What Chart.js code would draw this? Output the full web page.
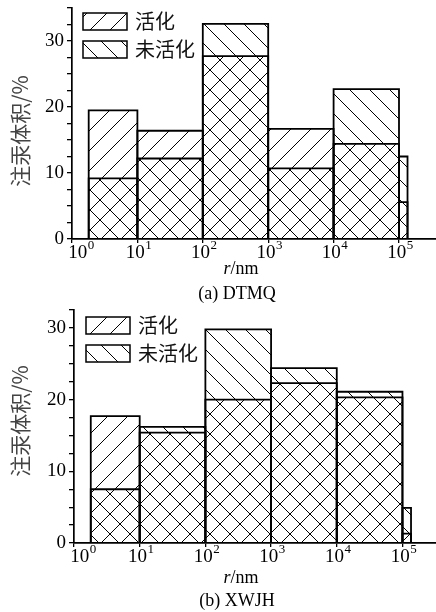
<!DOCTYPE html>
<html>
<head>
<meta charset="utf-8">
<script src="https://cdn.jsdelivr.net/npm/chart.js@4.4.0/dist/chart.umd.min.js"></script>
<style>
  body { margin: 0; background: #fff; }
  .box { position: relative; width: 436px; }
</style>
</head>
<body>
<div class="box" style="height:304px"><canvas id="chartA"></canvas></div>
<div class="box" style="height:308px"><canvas id="chartB"></canvas></div>
<script>
// pore radius classes (nm), edges of the bars
const binEdges = [1.8, 10, 100, 1000, 10000, 100000, 135000];

// (a) DTMQ, mercury intrusion volume %
const dtmqActivated   = [19.5, 16.4, 27.7, 16.7, 14.4, 5.6];
const dtmqUnactivated = [9.2, 12.2, 32.6, 10.7, 22.7, 12.5];

// (b) XWJH
const xwjhActivated   = [17.7, 15.4, 20.0, 22.3, 20.3, 1.3];
const xwjhUnactivated = [7.5, 16.2, 29.8, 24.4, 21.1, 4.9];

const seriesNames = ['活化', '未活化'];
const xTickValues = [1, 10, 100, 1000, 10000, 100000];
const xTickExponents = ['0', '1', '2', '3', '4', '5'];
const yLabelEvery = 10;

const SERIF = '"Liberation Serif", "Times New Roman", serif';
const CJK = '"Noto Sans CJK SC", sans-serif';

// diagonal hatch tile, '/' or '\'
function hatch(dir) {
    const s = 20;
    const c = document.createElement('canvas');
    c.width = s; c.height = s;
    const g = c.getContext('2d');
    g.strokeStyle = '#000';
    g.lineWidth = 1;
    g.beginPath();
    if (dir === '/') {
        g.moveTo(-2, s + 2); g.lineTo(s + 2, -2);
        g.moveTo(-2, 2); g.lineTo(2, -2);
        g.moveTo(s - 2, s + 2); g.lineTo(s + 2, s - 2);
    } else {
        g.moveTo(-2, -2); g.lineTo(s + 2, s + 2);
        g.moveTo(s - 2, -2); g.lineTo(s + 2, 2);
        g.moveTo(-2, s - 2); g.lineTo(2, s + 2);
    }
    g.stroke();
    return g.createPattern(c, 'repeat');
}
const patAct = hatch('/');
const patUnact = hatch('\\');

function rect(i, h) {
    return [
        {x: binEdges[i], y: 0},
        {x: binEdges[i], y: h},
        {x: binEdges[i + 1], y: h},
        {x: binEdges[i + 1], y: 0}
    ];
}

function makeSets(act, unact) {
    let sets = [];
    [[act, patAct], [unact, patUnact]].forEach(([vals, pat]) => {
        vals.forEach((v, i) => {
            sets.push({
                data: rect(i, v),
                borderColor: '#000',
                borderWidth: 1.8,
                backgroundColor: pat,
                fill: 'origin',
                pointRadius: 0,
                tension: 0
            });
        });
    });
    return sets;
}

// legend boxes inside the plot, top left
const hatchLegend = {
    id: 'hatchLegend',
    afterDatasetsDraw(chart, args, opts) {
        const {ctx, chartArea} = chart;
        const x = chartArea.left + opts.dx;
        [patAct, patUnact].forEach((p, k) => {
            const y = chartArea.top + opts.dy + k * 28;
            ctx.save();
            ctx.fillStyle = '#fff';
            ctx.fillRect(x, y, 44, 17);
            ctx.fillStyle = p;
            ctx.fillRect(x, y, 44, 17);
            ctx.strokeStyle = '#000';
            ctx.lineWidth = 1.5;
            ctx.strokeRect(x, y, 44, 17);
            ctx.fillStyle = '#111';
            ctx.font = '20px ' + CJK;
            ctx.textBaseline = 'middle';
            ctx.fillText(seriesNames[k], x + 52, y + 8);
            ctx.restore();
        });
    }
};

// decade labels, axis titles and caption
const axisText = {
    id: 'axisText',
    afterDraw(chart, args, opts) {
        const {ctx, chartArea} = chart;
        const xs = chart.scales.x;
        ctx.save();
        ctx.fillStyle = '#000';
        ctx.textBaseline = 'middle';

        // 10^n tick labels (first one pushed right off the y axis)
        xTickValues.forEach((v, i) => {
            const px = xs.getPixelForValue(v) + (i === 0 ? 8 : 0);
            ctx.font = '19px ' + SERIF;
            const wb = ctx.measureText('10').width;
            ctx.font = '13px ' + SERIF;
            const we = ctx.measureText(xTickExponents[i]).width;
            const x0 = px - (wb + we) / 2 + 1;
            ctx.textAlign = 'left';
            ctx.font = '19px ' + SERIF;
            ctx.fillText('10', x0, chartArea.bottom + opts.labDy);
            ctx.font = '13px ' + SERIF;
            ctx.fillText(xTickExponents[i], x0 + wb + 0.5, chartArea.bottom + opts.labDy - 7);
        });

        // r/nm
        ctx.font = 'italic 18px ' + SERIF;
        const wr = ctx.measureText('r').width;
        ctx.font = '18px ' + SERIF;
        const wn = ctx.measureText('/nm').width;
        const x0 = opts.cx - (wr + wn) / 2;
        const y0 = chartArea.bottom + opts.titleDy;
        ctx.font = 'italic 18px ' + SERIF;
        ctx.textAlign = 'left';
        ctx.fillText('r', x0, y0);
        ctx.font = '18px ' + SERIF;
        ctx.fillText('/nm', x0 + wr, y0);

        // caption
        ctx.textAlign = 'center';
        ctx.fillText(opts.caption, opts.capx, chartArea.bottom + opts.capDy);

        // y title
        ctx.translate(20, opts.yTitleY);
        ctx.rotate(-Math.PI / 2);
        ctx.fillStyle = '#444';
        ctx.font = '21px ' + CJK;
        ctx.fillText('注汞体积/%', 0, 0);
        ctx.restore();
    }
};

function makeChart(id, act, unact, cfg) {
    const ctx = document.getElementById(id).getContext('2d');
    return new Chart(ctx, {
        type: 'line',
        data: {datasets: makeSets(act, unact)},
        plugins: [hatchLegend, axisText],
        options: {
            animation: false,
            responsive: true,
            maintainAspectRatio: false,
            devicePixelRatio: 1,
            layout: {padding: {top: cfg.top, left: 0, right: 0, bottom: 0}},
            plugins: {
                legend: {display: false},
                tooltip: {enabled: false},
                hatchLegend: {dx: cfg.legDx, dy: cfg.legDy},
                axisText: {
                    cx: 241, capx: 237, labDy: 14, titleDy: cfg.titleDy, capDy: cfg.capDy,
                    caption: cfg.caption, yTitleY: cfg.yTitleY
                }
            },
            scales: {
                x: {
                    type: 'logarithmic',
                    min: 1,
                    max: cfg.xMax,
                    afterBuildTicks: (scale) => {
                        scale.ticks = xTickValues.map(v => ({value: v}));
                    },
                    afterFit: (scale) => {
                        scale.height = cfg.xHeight;
                        scale.paddingLeft = 0;
                        scale.paddingRight = 0;
                    },
                    grid: {display: true, drawOnChartArea: false, drawTicks: true, tickLength: 4, color: '#000', lineWidth: 1.3},
                    border: {display: true, color: '#000', width: 1.7},
                    ticks: {
                        autoSkip: false,
                        maxRotation: 0,
                        callback: () => ''
                    }
                },
                y: {
                    min: 0,
                    max: cfg.yMax,
                    afterFit: (scale) => {
                        scale.width = cfg.yWidth;
                        scale.paddingTop = 0;
                        scale.paddingBottom = 0;
                    },
                    grid: {display: true, drawOnChartArea: false, drawTicks: true, tickLength: 5, color: '#000', lineWidth: 1.3},
                    border: {display: true, color: '#000', width: 1.7},
                    ticks: {
                        stepSize: 2.5,
                        autoSkip: false,
                        padding: 3,
                        color: '#000',
                        font: {family: SERIF, size: 19},
                        callback: (v) => (v % yLabelEvery === 0 ? String(v) : '')
                    }
                }
            }
        }
    });
}

makeChart('chartA', dtmqActivated, dtmqUnactivated, {
    top: 8, xHeight: 65, yWidth: 72, yMax: 35, xMax: 368000,
    legDx: 11, legDy: 5, titleDy: 30, capDy: 55, caption: '(a) DTMQ', yTitleY: 131
});
makeChart('chartB', xwjhActivated, xwjhUnactivated, {
    top: 6, xHeight: 69, yWidth: 74, yMax: 32.5, xMax: 324000,
    legDx: 12, legDy: 7, titleDy: 35, capDy: 58, caption: '(b) XWJH', yTitleY: 117
});
</script>
</body>
</html>
